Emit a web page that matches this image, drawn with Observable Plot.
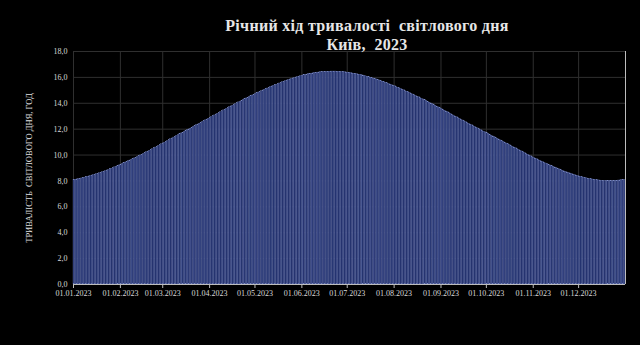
<!DOCTYPE html>
<html><head><meta charset="utf-8">
<script src="https://cdn.jsdelivr.net/npm/d3@7"></script>
<script src="https://cdn.jsdelivr.net/npm/@observablehq/plot@0.6"></script>
<style>
html,body{margin:0;padding:0;background:#000;width:640px;height:345px;overflow:hidden}
#title{position:relative;height:46px;color:#e6e6e6;font-family:"Liberation Serif","Times New Roman",serif;font-weight:bold;font-size:16px;line-height:18px;letter-spacing:0.3px;white-space:pre}
#title div{position:absolute;left:47px;width:640px;text-align:center}
#chart svg{display:block}
</style></head><body>
<div id="title"><div style="top:17px">Річний хід тривалості  світлового дня</div><div style="top:36px">Київ,  2023</div></div>
<div id="chart"></div>
<script>
// Day length in Kyiv, hours, per day of each month
const jan = [8.08,8.10,8.12,8.14,8.17,8.19,8.22,8.25,8.28,8.32,8.35,8.38,8.42,8.45,8.49,8.53,8.56,8.60,8.64,8.68,8.72,8.76,8.81,8.85,8.90,8.95,9.00,9.05,9.10,9.15,9.20];
const feb = [9.26,9.31,9.36,9.42,9.47,9.52,9.58,9.63,9.68,9.74,9.79,9.85,9.91,9.97,10.03,10.09,10.15,10.21,10.27,10.33,10.39,10.45,10.52,10.58,10.65,10.71,10.77,10.84];
const mar = [10.90,10.96,11.03,11.09,11.16,11.22,11.28,11.35,11.41,11.48,11.54,11.60,11.67,11.73,11.79,11.86,11.92,11.98,12.04,12.11,12.17,12.23,12.30,12.36,12.42,12.49,12.55,12.62,12.68,12.74,12.81];
const apr = [12.87,12.93,13.00,13.06,13.13,13.19,13.25,13.32,13.38,13.45,13.51,13.57,13.63,13.70,13.76,13.82,13.88,13.94,14.01,14.07,14.13,14.19,14.25,14.31,14.37,14.43,14.48,14.54,14.60,14.66];
const may = [14.72,14.77,14.83,14.88,14.93,14.99,15.04,15.09,15.14,15.20,15.25,15.30,15.35,15.39,15.44,15.49,15.53,15.58,15.63,15.67,15.72,15.76,15.80,15.84,15.88,15.92,15.95,15.99,16.03,16.06,16.10];
const jun = [16.13,16.16,16.19,16.22,16.25,16.27,16.29,16.31,16.33,16.35,16.37,16.38,16.39,16.40,16.41,16.42,16.43,16.44,16.44,16.45,16.45,16.45,16.45,16.44,16.44,16.43,16.42,16.41,16.40,16.38];
const jul = [16.37,16.35,16.33,16.31,16.29,16.27,16.25,16.22,16.20,16.17,16.15,16.12,16.08,16.05,16.02,15.98,15.95,15.91,15.88,15.84,15.80,15.76,15.72,15.67,15.63,15.58,15.54,15.49,15.45,15.40,15.36];
const aug = [15.31,15.26,15.21,15.16,15.11,15.06,15.00,14.95,14.90,14.85,14.80,14.74,14.68,14.63,14.57,14.51,14.46,14.40,14.34,14.29,14.23,14.17,14.11,14.05,13.99,13.93,13.87,13.81,13.74,13.68,13.62];
const sep = [13.56,13.50,13.43,13.37,13.31,13.24,13.18,13.11,13.05,12.98,12.92,12.86,12.80,12.73,12.67,12.61,12.55,12.49,12.42,12.36,12.30,12.24,12.18,12.12,12.06,11.99,11.93,11.87,11.81,11.75];
const oct = [11.69,11.63,11.57,11.50,11.44,11.38,11.32,11.26,11.20,11.13,11.07,11.01,10.95,10.89,10.83,10.77,10.70,10.64,10.58,10.52,10.46,10.40,10.34,10.28,10.22,10.16,10.10,10.03,9.97,9.91,9.85];
const nov = [9.79,9.73,9.68,9.62,9.57,9.51,9.46,9.40,9.35,9.29,9.24,9.19,9.14,9.09,9.04,8.99,8.94,8.89,8.84,8.79,8.74,8.70,8.66,8.62,8.58,8.54,8.50,8.46,8.42,8.38];
const dec = [8.35,8.32,8.29,8.26,8.23,8.20,8.17,8.15,8.13,8.11,8.09,8.07,8.06,8.04,8.03,8.02,8.01,8.01,8.00,8.00,8.00,8.00,8.00,8.01,8.01,8.02,8.03,8.04,8.05,8.06,8.07];

const monthArrays = [jan, feb, mar, apr, may, jun, jul, aug, sep, oct, nov, dec];
const yTicks = [0, 2, 4, 6, 8, 10, 12, 14, 16, 18];
const monthTicks = d3.range(12).map(m => new Date(Date.UTC(2023, m, 1)));
const gridTicks = monthTicks.concat([new Date(Date.UTC(2024, 0, 1))]);
const yTitle = "ТРИВАЛІСТЬ\u00a0 СВІТЛОВОГО ДНЯ, ГОД";

const data = [];
monthArrays.forEach((arr, m) => arr.forEach((v, i) => {
  const d = new Date(Date.UTC(2023, m, i + 1));
  data.push({date: d, next: new Date(+d + 864e5), value: v});
}));

const chart = Plot.plot({
  width: 640,
  height: 299,
  marginTop: 5,
  marginBottom: 61,
  marginLeft: 73,
  marginRight: 15,
  style: {background: "#000", color: "#d8d8d8", fontFamily: "'Liberation Serif','Times New Roman',serif", fontSize: "8px"},
  x: {type: "utc", domain: [new Date(Date.UTC(2023, 0, 1)), new Date(Date.UTC(2024, 0, 1))]},
  y: {domain: [0, 18]},
  marks: [
    Plot.gridY(yTicks.slice(1), {stroke: "#2f2f2f", strokeOpacity: 1}),
    Plot.gridX(gridTicks, {stroke: "#2f2f2f", strokeOpacity: 1}),
    Plot.rectY(data, {x1: "date", x2: "next", y: "value", fill: "#25336f", stroke: "#7d8cc8", strokeWidth: 0.3}),
    Plot.ruleY([0], {stroke: "#bdbdbd"}),
    Plot.axisY(yTicks, {tickSize: 0, tickPadding: 6, tickFormat: d => d.toFixed(1).replace(".", ","), label: null, fill: "#d8d8d8"}),
    Plot.axisX(monthTicks, {tickSize: 4, tickPadding: 2, tickFormat: d3.utcFormat("%d.%m.%Y"), label: null, stroke: "#bdbdbd", fill: "#d8d8d8"}),
    Plot.tickX([new Date(Date.UTC(2024, 0, 1))], {y1: 0, y2: 0.25, stroke: "#bdbdbd"}),
    Plot.text([yTitle], {frameAnchor: "left", rotate: -90, dx: -44, text: d => d, fill: "#e0e0e0", fontSize: 8.5, textAnchor: "middle"})
  ]
});
document.getElementById("chart").appendChild(chart);
</script>
</body></html>
